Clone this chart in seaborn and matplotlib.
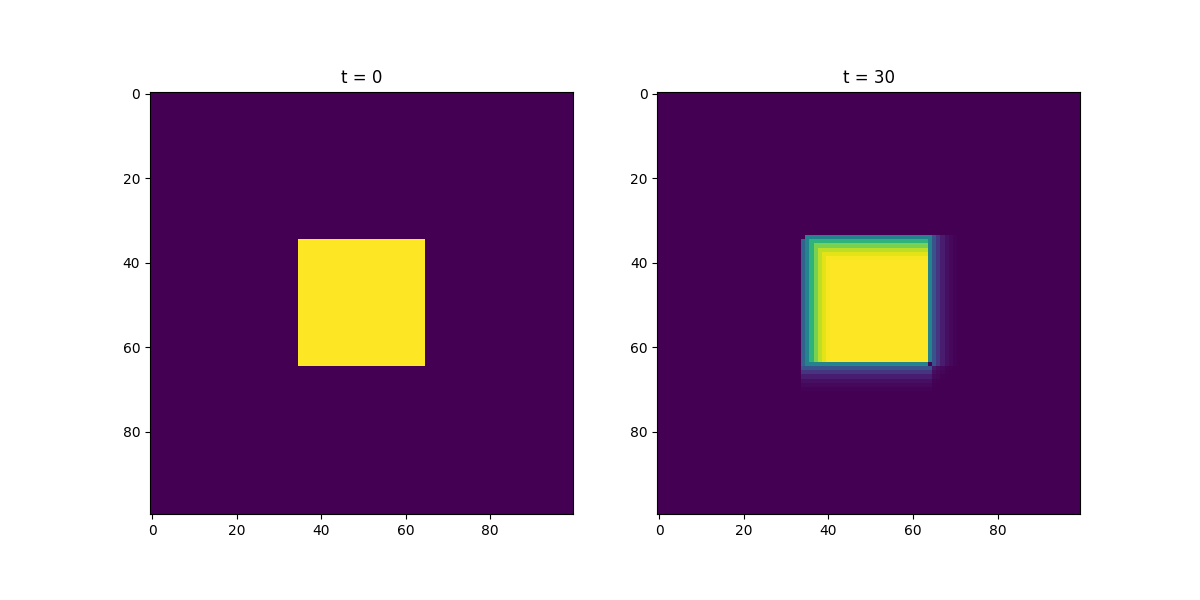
import numpy as np
import matplotlib
matplotlib.use("Agg")
import matplotlib.pyplot as plt
import seaborn as sns

N = 100
titles = ["t = 0", "t = 30"]

# Initial square (inclusive cell indices)
sq_start = 35
sq_end = 64

# t = 30: column profile (x) and row profile (y)
x_cols = [34, 35, 36, 37, 38, 39, 40, 64, 65, 66, 67, 68, 69, 70]
x_vals = [0.32, 0.45, 0.65, 0.80, 0.90, 0.96, 0.99, 0.45, 0.25, 0.15, 0.08, 0.04, 0.02, 0.01]
y_rows = [34, 35, 36, 37, 38, 39, 64, 65, 66, 67, 68, 69, 70]
y_vals = [0.45, 0.65, 0.80, 0.90, 0.96, 0.99, 0.45, 0.25, 0.15, 0.08, 0.04, 0.02, 0.01]
# individual cells (row, col, value)
special_cells = [(34, 34, 0.0), (64, 64, 0.0)]

# ---- build fields ----
field0 = np.zeros((N, N))
field0[sq_start:sq_end + 1, sq_start:sq_end + 1] = 1.0

fx = np.zeros(N)
fx[41:64] = 1.0
for c, v in zip(x_cols, x_vals):
    fx[c] = v
gy = np.zeros(N)
gy[40:64] = 1.0
for r, v in zip(y_rows, y_vals):
    gy[r] = v

field1 = np.minimum(gy[:, None], fx[None, :])
prod = gy[:, None] * fx[None, :]
field1[65:, 65:] = prod[65:, 65:]
for r, c, v in special_cells:
    field1[r, c] = v

cmap = sns.color_palette("viridis", as_cmap=True)

fig, axes = plt.subplots(1, 2, figsize=(12, 6), dpi=100)
for ax, f, t in zip(axes, [field0, field1], titles):
    ax.imshow(f, cmap=cmap)
    ax.set_title(t)
fig.savefig("out.png", dpi=100)
